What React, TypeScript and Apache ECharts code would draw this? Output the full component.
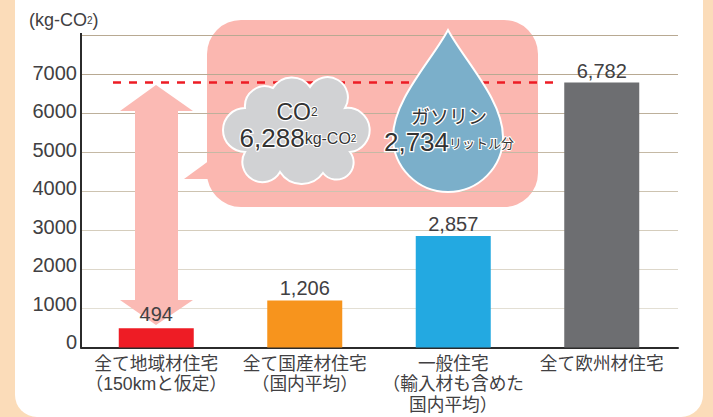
import React, { useEffect, useRef } from "react";
import * as echarts from "echarts";

const categories = [
  "全て地域材住宅\n（150kmと仮定）",
  "全て国産材住宅\n（国内平均）",
  "一般住宅\n（輸入材も含めた\n国内平均）",
  "全て欧州材住宅",
];
const values = [494, 1206, 2857, 6782];
const barColors = ["#ee1c25", "#f7941d", "#23a9e1", "#6d6e71"];
const labelGaps = [4, 2, 2, 2];
const referenceValue = 6782;
const gridLineColors = ["#e3dfd4", "#e3dfd4", "#ddd7ca", "#d5cdbc", "#cdc3b0", "#c5b9a5", "#bdb09b", "#b8a992", "#b8a992"];

const LAT = "'Liberation Sans', Arial, sans-serif";
const CJK = "'Noto Sans CJK JP', sans-serif";
const MIXED = "'Liberation Sans', 'Noto Sans CJK JP', sans-serif";
const TEXT = "#414042";

const cloudPath =
  "M245 108 A20 20 0 0 1 273 88 A22 22 0 0 1 310 87 A20 20 0 0 1 345 108 A22 22 0 0 1 350 152 A17 17 0 0 1 323 173 A26 26 0 0 1 280 172 A20 20 0 0 1 245 152 A22 22 0 0 1 245 108 Z";
const dropPath =
  "M448 30 C432 60 393 100 393 137 A55 55 0 0 0 503 137 C503 100 464 60 448 30 Z";

(echarts.graphic as any).registerShape("cloudShape", (echarts.graphic as any).extendPath(cloudPath, {}));
(echarts.graphic as any).registerShape("dropShape", (echarts.graphic as any).extendPath(dropPath, {}));

export default function App() {
  const ref = useRef<HTMLDivElement>(null);
  useEffect(() => {
    const chart = echarts.init(ref.current!, null, { renderer: "svg" });
    const halo = { stroke: "#ffffff", lineWidth: 2.5, fill: "#333333" };
    chart.setOption({
      animation: false,
      backgroundColor: "#fbdcb9",
      grid: [
        { left: 81, width: 597, top: 35, height: 312.5 },
        { left: 82, width: 594, top: 35, height: 312.5 },
        { left: 81, width: 10, top: 73, height: 269 },
      ],
      xAxis: [
        {
          type: "value", gridIndex: 0, min: 81, max: 678, z: 0,
          axisLine: { show: true, onZero: false, lineStyle: { color: "#2b2b2b", width: 2 } },
          axisTick: { show: false }, axisLabel: { show: false }, splitLine: { show: false },
        },
        {
          type: "category", gridIndex: 1, data: categories,
          axisLine: { show: false }, axisTick: { show: false },
          axisLabel: { interval: 0, margin: 6, fontFamily: MIXED, fontSize: 17.7, lineHeight: 20.5, color: TEXT },
        },
        { type: "value", gridIndex: 2, show: false },
      ],
      yAxis: [
        {
          type: "value", gridIndex: 0, min: 0, max: 8000, interval: 1000, z: 0,
          axisLine: { show: true, lineStyle: { color: "#2b2b2b", width: 2 } },
          axisTick: { show: false }, axisLabel: { show: false },
          splitLine: { show: true, lineStyle: { color: gridLineColors, width: 1 } },
        },
        { type: "value", gridIndex: 1, min: 0, max: 8000, interval: 1000, show: false },
        {
          type: "value", gridIndex: 2, min: 0, max: 7000, interval: 1000,
          axisLine: { show: false }, axisTick: { show: false }, splitLine: { show: false },
          axisLabel: { margin: 4, fontFamily: LAT, fontSize: 20, color: TEXT, formatter: (v: number) => String(v) },
        },
      ],
      series: [
        {
          type: "line", xAxisIndex: 0, yAxisIndex: 0, z: 2, symbol: "none", silent: true,
          data: [[113, referenceValue], [553, referenceValue]],
          lineStyle: { color: "#ed1c24", width: 2.5, type: [8, 8] },
        },
        {
          type: "bar", xAxisIndex: 1, yAxisIndex: 1, z: 3, barWidth: 75,
          data: values.map((v, i) => ({
            value: v,
            itemStyle: { color: barColors[i] },
            label: { distance: labelGaps[i] },
          })),
          label: {
            show: true, position: "top", fontFamily: LAT, fontSize: 20, color: TEXT,
            formatter: (p: any) => Number(p.value).toLocaleString("en-US"),
          },
        },
      ],
      graphic: [
        { type: "rect", z: -2, shape: { x: 15, y: -30, width: 688, height: 447, r: 22 }, style: { fill: "#ffffff" } },
        { type: "polygon", z: -1, shape: { points: [[184, 179], [210, 160], [210, 179]] }, style: { fill: "#fbb7b0" } },
        { type: "rect", z: -1, shape: { x: 207, y: 20, width: 331, height: 187, r: 34 }, style: { fill: "#fbb7b0" } },
        {
          type: "polygon", z: 1,
          shape: { points: [[156, 85], [193, 111], [178, 111], [178, 300], [193, 300], [156, 325], [120, 300], [135, 300], [135, 111], [120, 111]] },
          style: { fill: "#fbbab4" },
        },
        { type: "rect", z: 1, shape: { x: 80, y: 33, width: 2, height: 3 }, style: { fill: "#2b2b2b" } },
        {
          type: "text", z: 5, x: 29, y: 20,
          style: {
            text: "(kg-CO{s|2})", font: `18px ${LAT}`, fill: TEXT, verticalAlign: "middle",
            rich: { s: { fontSize: 10, fontFamily: LAT, fill: TEXT } },
          },
        },
        { type: "cloudShape", z: 5, style: { fill: "#d1d2d4", stroke: "#ffffff", lineWidth: 2 } },
        { type: "dropShape", z: 5, style: { fill: "#7bafca", stroke: "#ffffff", lineWidth: 2 } },
        {
          type: "text", z: 6, x: 297, y: 112,
          style: {
            text: "CO{s|2}", font: `23px ${LAT}`, align: "center", verticalAlign: "middle", ...halo,
            rich: { s: { fontSize: 12, fontFamily: LAT, ...halo, lineWidth: 2 } },
          },
        },
        {
          type: "text", z: 6, x: 298, y: 138,
          style: {
            text: "6,288{m|kg-CO}{s|2}", font: `26px ${LAT}`, align: "center", verticalAlign: "middle", ...halo,
            rich: {
              m: { fontSize: 16, fontFamily: LAT, ...halo, lineWidth: 2 },
              s: { fontSize: 10, fontFamily: LAT, ...halo, lineWidth: 2 },
            },
          },
        },
        {
          type: "text", z: 6, x: 449, y: 115,
          style: { text: "ガソリン", font: `19px ${CJK}`, align: "center", verticalAlign: "middle", ...halo },
        },
        {
          type: "text", z: 6, x: 449, y: 142,
          style: {
            text: "2,734{m|リットル分}", font: `26px ${LAT}`, align: "center", verticalAlign: "middle", ...halo,
            rich: { m: { fontSize: 13, fontFamily: CJK, ...halo, lineWidth: 2 } },
          },
        },
      ],
    });
    return () => chart.dispose();
  }, []);
  return <div ref={ref} style={{ position: "fixed", left: 0, top: 0, width: 713, height: 417 }} />;
}
